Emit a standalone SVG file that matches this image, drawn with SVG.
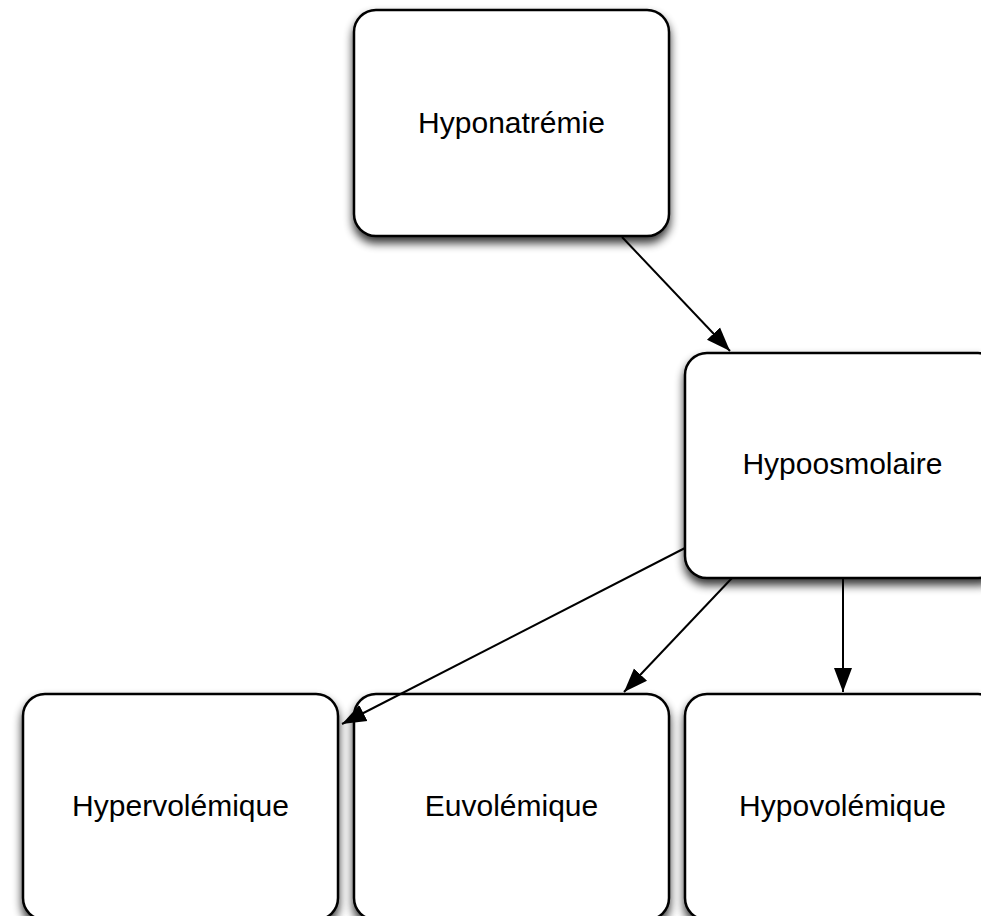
<svg xmlns="http://www.w3.org/2000/svg" width="981" height="916" viewBox="0 0 981 916">
<style>
.box{fill:#fff;stroke:#000;stroke-width:2.5;filter:url(#sh)}
.lbl{font-family:"Liberation Sans",Arial,Helvetica,sans-serif;font-size:30px;fill:#000;text-anchor:middle}
.edge{fill:none;stroke:#000;stroke-width:2;marker-end:url(#ah)}
</style>
<defs>
<filter id="sh" x="-20%" y="-20%" width="140%" height="140%">
<feGaussianBlur in="SourceAlpha" stdDeviation="5"/>
<feOffset dx="0" dy="6" result="b"/>
<feComponentTransfer><feFuncA type="linear" slope="0.8"/></feComponentTransfer>
<feMerge><feMergeNode/><feMergeNode in="SourceGraphic"/></feMerge>
</filter>
<marker id="ah" markerUnits="userSpaceOnUse" markerWidth="26" markerHeight="22" viewBox="0 0 26 22" refX="24" refY="11" orient="auto">
<path d="M0,2 L24,11 L0,20 Z" fill="#000"/>
</marker>
</defs>
<g id="n-hyponatremie"><rect class="box" x="354" y="10" width="315" height="226" rx="22"/><text class="lbl" x="511.5" y="133">Hyponatrémie</text></g>
<g id="n-hypoosmolaire"><rect class="box" x="685" y="353" width="315" height="225" rx="22"/><text class="lbl" x="842.5" y="474">Hypoosmolaire</text></g>
<g id="n-hypervolemique"><rect class="box" x="23" y="694" width="315" height="226" rx="22"/><text class="lbl" x="180.5" y="816">Hypervolémique</text></g>
<g id="n-euvolemique"><rect class="box" x="354" y="694" width="315" height="226" rx="22"/><text class="lbl" x="511.5" y="816">Euvolémique</text></g>
<g id="n-hypovolemique"><rect class="box" x="685" y="694" width="315" height="226" rx="22"/><text class="lbl" x="842.5" y="816">Hypovolémique</text></g>
<g id="connectors">
<line class="edge" x1="622" y1="237" x2="730" y2="351"/>
<line class="edge" x1="685" y1="548" x2="342" y2="724"/>
<line class="edge" x1="732" y1="578" x2="624" y2="692"/>
<line class="edge" x1="843" y1="578" x2="843" y2="692"/>
</g>
</svg>
